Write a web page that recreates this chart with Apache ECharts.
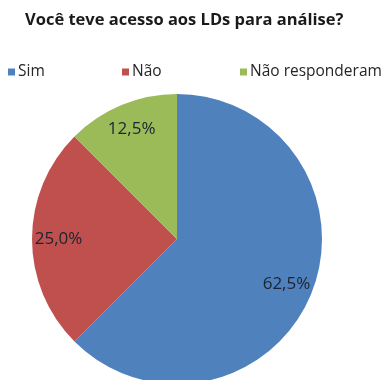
<!DOCTYPE html>
<html>
<head>
<meta charset="utf-8">
<script src="https://cdn.jsdelivr.net/npm/echarts@6/dist/echarts.min.js"></script>
<style>
  html, body { margin: 0; padding: 0; background: #ffffff; }
  #chart { width: 387px; height: 380px; }
</style>
</head>
<body>
<div id="chart"></div>
<script>
// Respostas à pergunta do levantamento
const titleText = 'Você teve acesso aos LDs para análise?';
const categories = ['Sim', 'Não', 'Não responderam'];
const percentages = [62.5, 25.0, 12.5];
const colors = ['#4F81BD', '#C0504D', '#9BBB59'];

const FONT = '"Open Sans", "Noto Sans", sans-serif';
const CENTER = [177, 239];
const RADIUS = 145;

const seriesData = categories.map((name, i) => ({
  name: name,
  value: percentages[i],
  itemStyle: { color: colors[i] }
}));

// Percent text in Portuguese style: one decimal, comma separator
const fmtPct = v => v.toFixed(1).replace('.', ',') + '%';

const legendLeft = [8, 122, 240];
const legends = categories.map((name, i) => ({
  data: [name],
  left: legendLeft[i],
  top: 64,
  padding: 0,
  orient: 'horizontal',
  itemWidth: 7,
  itemHeight: 7,
  itemGap: 0,
  icon: 'rect',
  selectedMode: false,
  textStyle: { fontFamily: FONT, fontSize: 15.5, color: '#262626', padding: [0, 0, 0, -2] }
}));

const chart = echarts.init(document.getElementById('chart'), null, { renderer: 'canvas' });
chart.setOption({
  animation: false,
  backgroundColor: '#ffffff',
  title: {
    text: titleText,
    left: 20,
    top: 7,
    textStyle: { fontFamily: FONT, fontSize: 16.5, fontWeight: 'bold', color: '#1a1a1a' }
  },
  legend: legends,
  series: [
    {
      type: 'pie',
      center: CENTER,
      radius: [0, RADIUS],
      startAngle: 90,
      clockwise: true,
      silent: true,
      label: { show: false },
      labelLine: { show: false },
      itemStyle: { borderWidth: 0 },
      data: seriesData
    },
    {
      // transparent ring that carries the percent labels toward the rim
      type: 'pie',
      center: CENTER,
      radius: [86, RADIUS],
      startAngle: 90,
      clockwise: true,
      silent: true,
      legendHoverLink: false,
      itemStyle: { color: 'rgba(0,0,0,0)', borderWidth: 0 },
      label: {
        show: true,
        position: 'inside',
        formatter: p => fmtPct(p.value),
        fontFamily: FONT,
        fontSize: 17,
        color: '#1c2333'
      },
      labelLine: { show: false },
      data: categories.map((name, i) => ({ name: name + ' ', value: percentages[i] }))
    }
  ]
});
</script>
</body>
</html>
